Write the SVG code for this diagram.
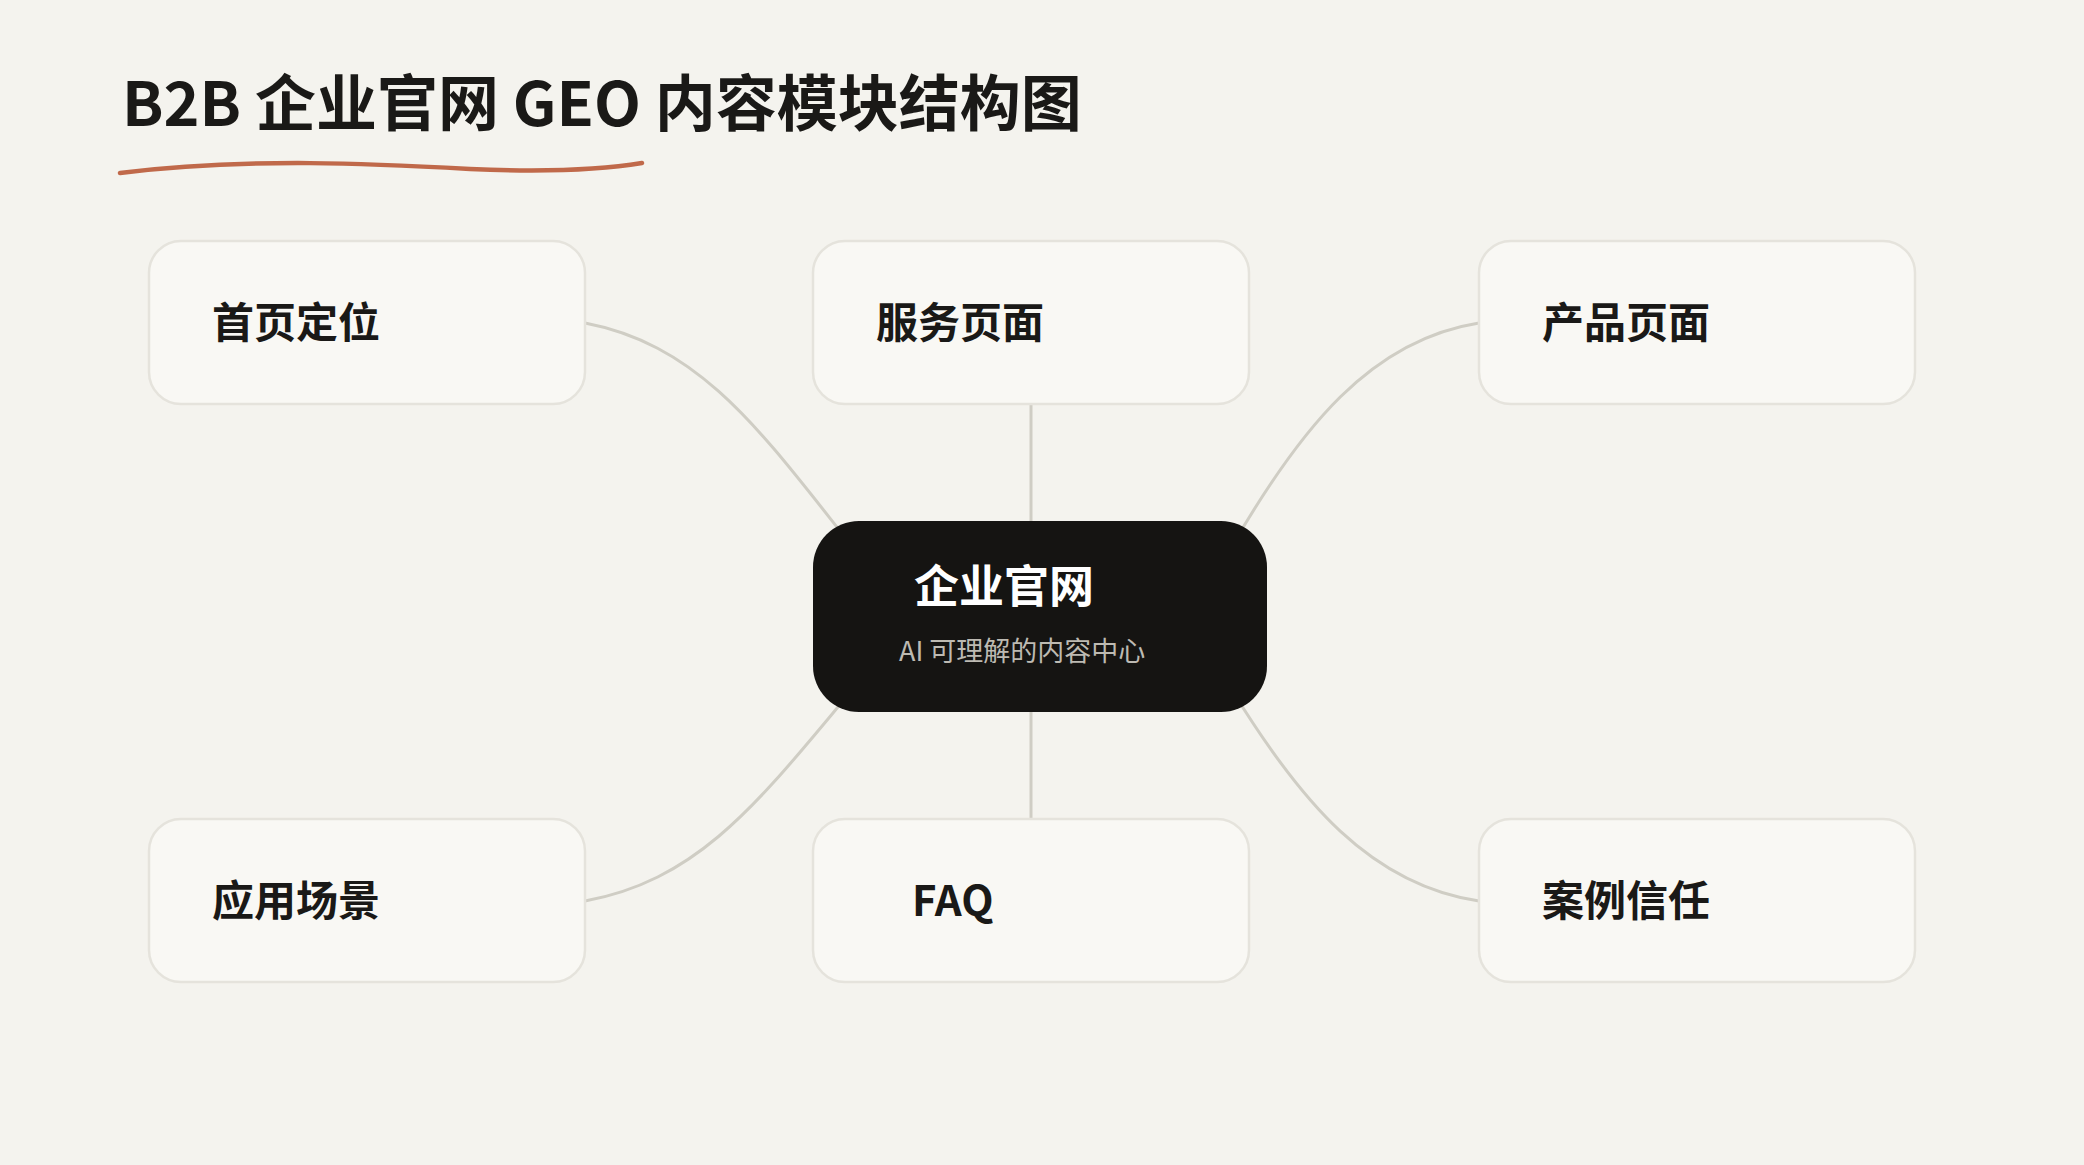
<svg xmlns="http://www.w3.org/2000/svg" width="2084" height="1165" viewBox="0 0 2084 1165">
<style>
.box{fill:#f9f8f4;stroke:#e5e3dc;stroke-width:2.5}
.lbl{font-family:"Noto Sans CJK SC","Liberation Sans",sans-serif;font-weight:700;font-size:42px;fill:#1a1917}
.con{fill:none;stroke:#cfcdc4;stroke-width:3;stroke-linecap:round}
</style>
<rect width="2084" height="1165" fill="#f4f3ee"/>
<text x="122" y="126" font-family="Noto Sans CJK SC, Liberation Sans, sans-serif" font-weight="700" font-size="61" fill="#1a1917">B2B 企业官网 GEO 内容模块结构图</text>
<path d="M120,173 C250,157 380,164 470,169 C540,172 600,170 642,163" fill="none" stroke="#c0694a" stroke-width="4.5" stroke-linecap="round"/>
<g id="connectors">
<path class="con" d="M585,323 C700,345 760,430 848,541"/>
<path class="con" d="M1031,404 L1031,521"/>
<path class="con" d="M1479,323 C1370,340 1300,430 1235,541"/>
<path class="con" d="M585,901 C700,880 760,800 848,695"/>
<path class="con" d="M1031,712 L1031,819"/>
<path class="con" d="M1479,901 C1370,885 1300,800 1235,695"/>
</g>
<g id="n1"><rect class="box" x="149" y="241" width="436" height="163" rx="32"/><text class="lbl" x="212" y="338">首页定位</text></g>
<g id="n2"><rect class="box" x="813" y="241" width="436" height="163" rx="32"/><text class="lbl" x="876" y="338">服务页面</text></g>
<g id="n3"><rect class="box" x="1479" y="241" width="436" height="163" rx="32"/><text class="lbl" x="1542" y="338">产品页面</text></g>
<g id="n4"><rect class="box" x="149" y="819" width="436" height="163" rx="32"/><text class="lbl" x="212" y="916">应用场景</text></g>
<g id="n5"><rect class="box" x="813" y="819" width="436" height="163" rx="32"/><text class="lbl" x="912" y="916">FAQ</text></g>
<g id="n6"><rect class="box" x="1479" y="819" width="436" height="163" rx="32"/><text class="lbl" x="1542" y="916">案例信任</text></g>
<g id="center"><rect x="813" y="521" width="454" height="191" rx="46" fill="#151412"/>
<text x="914" y="603" font-family="Noto Sans CJK SC, Liberation Sans, sans-serif" font-weight="700" font-size="45" fill="#ffffff">企业官网</text>
<text x="899" y="661" font-family="Noto Sans CJK SC, Liberation Sans, sans-serif" font-size="27" fill="#bdbab2">AI 可理解的内容中心</text></g>
</svg>
